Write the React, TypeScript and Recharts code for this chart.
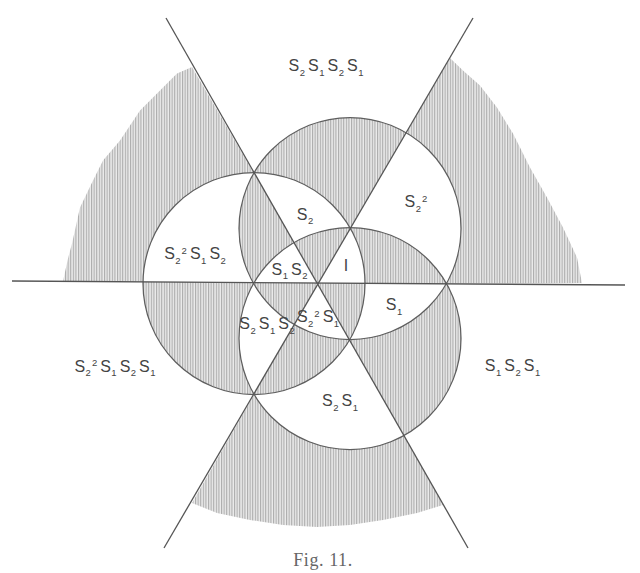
import {
  ComposedChart, Line, Scatter, XAxis, YAxis,
  usePlotArea, useXAxisDomain, useYAxisDomain,
} from 'recharts';

type Pt = { x: number; y: number };

// figure units: origin where the three mirror lines cross, y pointing up (1 unit ~ 1px)
const circleCenters: Pt[] = [
  { x: -64, y: 0 },
  { x: 32, y: 55 },
  { x: 32, y: -55 },
];
const circleRadius = 111;

const horizontalLine: Pt[] = [{ x: -306, y: 2.5 }, { x: 307, y: -1.5 }];
const fallingLine: Pt[] = [{ x: -152, y: 265.5 }, { x: 150, y: -264.5 }];
const risingLine: Pt[] = [{ x: 155, y: 265.5 }, { x: -154, y: -264.5 }];
const mirrorLines = [horizontalLine, fallingLine, risingLine];

// hand drawn outer edges of the hatched fields
const leftField: Pt[] = [
  { x: -255, y: 2.5 }, { x: -250, y: 25 }, { x: -246, y: 40 }, { x: -238, y: 76 },
  { x: -225, y: 103 }, { x: -215, y: 123 }, { x: -198, y: 143 }, { x: -178, y: 173 },
  { x: -158, y: 193 }, { x: -141, y: 210 }, { x: -126, y: 216.5 },
];
const rightField: Pt[] = [
  { x: 132, y: 225.5 }, { x: 145, y: 213 }, { x: 162, y: 198 }, { x: 179, y: 176 },
  { x: 195, y: 150 }, { x: 212, y: 116 }, { x: 229, y: 86 }, { x: 245, y: 56 },
  { x: 259, y: 26 }, { x: 264, y: 0.5 },
];
const bottomField: Pt[] = [
  { x: -126, y: -219.5 }, { x: -101, y: -229.5 }, { x: -68, y: -236.5 }, { x: -35, y: -241.5 },
  { x: -1, y: -243.5 }, { x: 32, y: -241.5 }, { x: 65, y: -236.5 }, { x: 99, y: -229.5 },
  { x: 125, y: -221.5 },
];
const hatchedFields = [leftField, rightField, bottomField];

const regionLabels = [
  { x: 8, y: 218, text: 'S2S1S2S1' },
  { x: 98, y: 82, text: 'S2^2' },
  { x: -13, y: 69.5, text: 'S2' },
  { x: -123, y: 30, text: 'S2^2S1S2' },
  { x: -28.5, y: 14.5, text: 'S1S2' },
  { x: 28, y: 18.5, text: 'I' },
  { x: 76, y: -21, text: 'S1' },
  { x: 0, y: -33, text: 'S2^2S1' },
  { x: -51, y: -40, text: 'S2S1S2' },
  { x: -203, y: -82.5, text: 'S2^2S1S2S1' },
  { x: 194.5, y: -82, text: 'S1S2S1' },
  { x: 22, y: -117, text: 'S2S1' },
];

const INK = '#555';

function useFigureScale() {
  const plot = usePlotArea();
  const xDomain = useXAxisDomain();
  const yDomain = useYAxisDomain();
  if (!plot || !xDomain || !yDomain) return null;
  const [x0, x1] = xDomain as number[];
  const [y0, y1] = yDomain as number[];
  const k = plot.width / (x1 - x0);
  return {
    k,
    px: (p: Pt) => [plot.x + (p.x - x0) * k, plot.y + ((y1 - p.y) / (y1 - y0)) * plot.height],
  };
}

// even-odd shading: circles and one side of every mirror line
function HatchLayer() {
  const s = useFigureScale();
  if (!s) return null;
  const r = circleRadius * s.k;
  const circlePath = (c: Pt) => {
    const [cx, cy] = s.px(c);
    return `M${cx - r},${cy}a${r},${r} 0 1,0 ${2 * r},0a${r},${r} 0 1,0 ${-2 * r},0Z`;
  };
  const poly = (pts: Pt[]) => 'M' + pts.map((p) => s.px(p).join(',')).join('L') + 'Z';
  const halfPlane = ([a, b]: Pt[]) => {
    const len = Math.hypot(b.x - a.x, b.y - a.y);
    const ux = (b.x - a.x) / len;
    const uy = (b.y - a.y) / len;
    const far = 2000;
    const p1 = { x: a.x - ux * far, y: a.y - uy * far };
    const p2 = { x: b.x + ux * far, y: b.y + uy * far };
    return poly([p1, p2, { x: p2.x - uy * far, y: p2.y + ux * far }, { x: p1.x - uy * far, y: p1.y + ux * far }]);
  };
  const shading = [...circleCenters.map(circlePath), ...mirrorLines.map(halfPlane)].join('');
  const origin = { x: 0, y: 0 };

  return (
    <g>
      <defs>
        <pattern id="hatch" width={2.6} height={20} patternUnits="userSpaceOnUse">
          <rect width={2.6} height={20} fill="#ebebeb" />
          <rect width={1.1} height={20} fill="#ababab" />
        </pattern>
        <clipPath id="hatch-extent">
          {circleCenters.map((c, i) => <path key={i} d={circlePath(c)} />)}
          {hatchedFields.map((f, i) => <path key={'f' + i} d={poly([...f, origin])} />)}
        </clipPath>
      </defs>
      <path d={shading} fillRule="evenodd" fill="url(#hatch)" clipPath="url(#hatch-extent)" />
      {circleCenters.map((c, i) => (
        <path key={i} d={circlePath(c)} fill="none" stroke="#5e5e5e" strokeWidth={1.25} />
      ))}
      <text x={323} y={566} textAnchor="middle" fontFamily="'Liberation Serif', serif" fontSize={18}
        letterSpacing={0.6} fill="#666">
        Fig. 11.
      </text>
    </g>
  );
}

function RegionLabel(props: any) {
  const { cx, cy, payload } = props;
  const tokens = [...String(payload.text).matchAll(/S(\d)(?:\^(\d))?|I/g)];
  const parts: any[] = [];
  let shift = 0;
  tokens.forEach((t, i) => {
    parts.push(<tspan key={'b' + i} dx={i ? 3 : 0} dy={-shift} fontSize={16}>{t[0][0]}</tspan>);
    shift = 0;
    if (t[1]) {
      parts.push(<tspan key={'s' + i} dy={4.5} dx={0.5} fontSize={9.5}>{t[1]}</tspan>);
      shift = 4.5;
    }
    if (t[2]) {
      parts.push(<tspan key={'p' + i} dy={-10} dx={1} fontSize={9.5}>{t[2]}</tspan>);
      shift = -5.5;
    }
  });
  return (
    <text x={cx} y={cy + 5.6} textAnchor="middle" fontFamily="'Liberation Sans', Arial, sans-serif" fill="#444">
      {parts}
    </text>
  );
}

export default function App() {
  return (
    <div style={{ position: 'absolute', left: 0, top: 0, background: '#fff' }}>
      <ComposedChart width={640} height={573} margin={{ top: 0, right: 0, bottom: 0, left: 0 }}>
        <XAxis type="number" dataKey="x" domain={[-318, 322]} allowDataOverflow hide />
        <YAxis type="number" dataKey="y" domain={[-289.5, 283.5]} allowDataOverflow hide />
        <HatchLayer />
        {mirrorLines.map((line, i) => (
          <Line key={i} data={line} dataKey="y" stroke={INK} strokeWidth={1.3} dot={false}
            activeDot={false} isAnimationActive={false} />
        ))}
        <Scatter data={regionLabels} dataKey="y" shape={RegionLabel} isAnimationActive={false} />
      </ComposedChart>
    </div>
  );
}
